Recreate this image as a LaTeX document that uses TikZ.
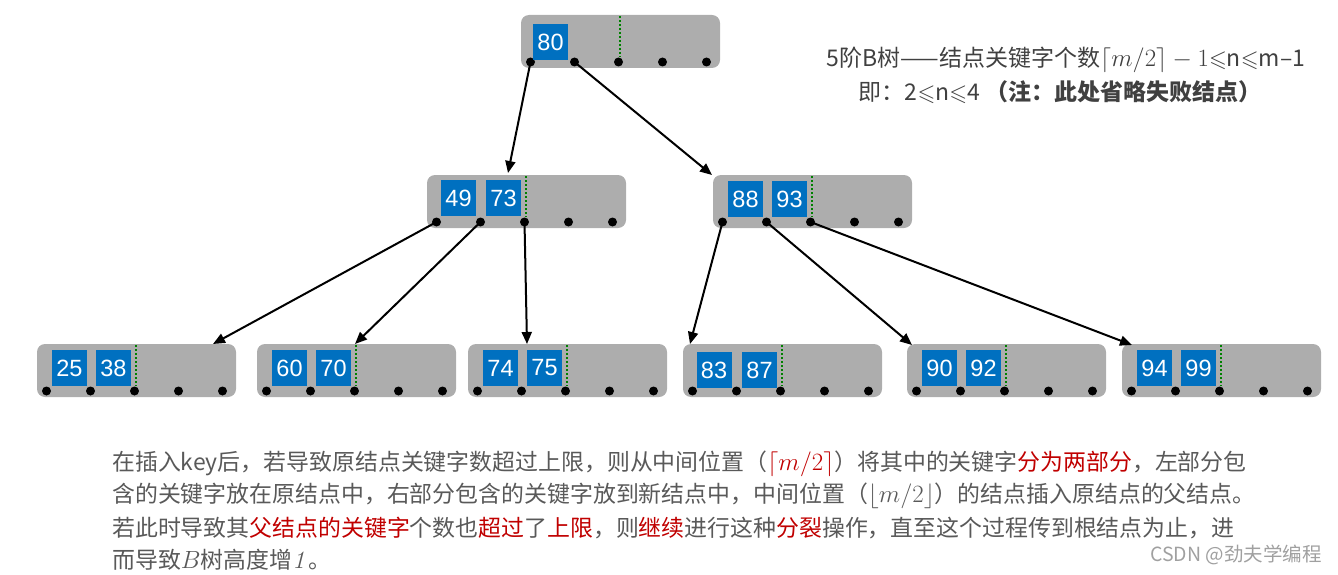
\documentclass[tikz,border=0pt]{standalone}
\usepackage{amssymb}
\usepackage[no-math]{fontspec}
\setmainfont{Liberation Sans}
\newfontfamily\cjk{Noto Sans CJK SC}
\usetikzlibrary{arrows.meta,calc}
\definecolor{keyblue}{HTML}{0070C0}
\definecolor{boxgray}{HTML}{ADADAD}
\definecolor{txtgray}{HTML}{595959}
\definecolor{hdgray}{HTML}{404040}
\definecolor{darkred}{HTML}{C00000}
\definecolor{dotgreen}{HTML}{008000}
\definecolor{wmgray}{HTML}{A0A0A0}
\newcommand\hl[1]{\textcolor{darkred}{#1}}
\newcommand\bframe[3]{%
  \node[gbox] (#1) at (#2+99.5,#3+26.5) {};
  \draw[gdot] (#2+99,#3+1) -- (#2+99,#3+42);
  \foreach \i in {0,...,4} {\node[dotn] (#1-d\i) at (#2+9.5+44*\i,#3+47) {};}
}
\tikzset{
  gbox/.style={fill=boxgray,draw=none,rounded corners=8pt,minimum width=199pt,minimum height=53pt,inner sep=0pt},
  keybox/.style={fill=keyblue,text=white,minimum width=35pt,minimum height=36pt,inner sep=0pt,font=\fontsize{23.5}{23.5}\selectfont},
  dotn/.style={circle,fill=black,inner sep=0pt,minimum size=9pt},
  gdot/.style={draw=dotgreen,line width=2pt,dash pattern=on 2pt off 2pt},
  arr/.style={draw=black,line width=2pt,-{Triangle[length=12pt,width=10pt]}},
  bodytxt/.style={anchor=west,inner sep=0pt,text=txtgray,font=\cjk\fontsize{22.9}{32}\selectfont},
  hdtxt/.style={inner sep=0pt,text=hdgray,font=\cjk\fontsize{23}{26}\selectfont}
}
\begin{document}
\begin{tikzpicture}[x=1pt,y=-1pt]
\useasboundingbox (0,0) rectangle (1338,575);
% root
\bframe{r}{521}{15}
\node[keybox] (r-k1) at (550.5,42) {80};
% level 2
\bframe{a}{427}{175}
\node[keybox] (a-k1) at (458.5,198) {49};
\node[keybox] (a-k2) at (503.5,198) {73};
\bframe{b}{713}{175}
\node[keybox] (b-k1) at (745.5,199) {88};
\node[keybox] (b-k2) at (789.5,199) {93};
% level 3
\bframe{c1}{37}{344}
\node[keybox] (c1-k1) at (69.5,368) {25};
\node[keybox] (c1-k2) at (113.5,368) {38};
\bframe{c2}{257}{344}
\node[keybox] (c2-k1) at (289.5,368) {60};
\node[keybox] (c2-k2) at (333.5,368) {70};
\bframe{c3}{468}{344}
\node[keybox] (c3-k1) at (500.5,368) {74};
\node[keybox] (c3-k2) at (544.5,368) {75};
\bframe{c4}{683}{344}
\node[keybox] (c4-k1) at (714,370) {83};
\node[keybox] (c4-k2) at (759.5,370) {87};
\bframe{c5}{907}{344}
\node[keybox] (c5-k1) at (939.5,368) {90};
\node[keybox] (c5-k2) at (983.5,368) {92};
\bframe{c6}{1122}{344}
\node[keybox] (c6-k1) at (1154.5,368) {94};
\node[keybox] (c6-k2) at (1198.5,368) {99};
% arrow ends
\coordinate (ea) at (508,173);
\coordinate (eb) at (712,175);
\coordinate (e1) at (213,344);
\coordinate (e2) at (355,344);
\coordinate (e3) at (527,344);
\coordinate (e4) at (690,344);
\coordinate (e5) at (912,345);
\coordinate (e6) at (1132,345);
\draw[arr] (r-d0.center) -- (ea);
\draw[arr] (r-d1.center) -- (eb);
\draw[arr] (a-d0.center) -- (e1);
\draw[arr] (a-d1.center) -- (e2);
\draw[arr] (a-d2.center) -- (e3);
\draw[arr] (b-d0.center) -- (e4);
\draw[arr] (b-d1.center) -- (e5);
\draw[arr] (b-d2.center) -- (e6);
% header text
\node[hdtxt] (h1) at (1066,60) {5阶B树——结点关键字个数$\lceil m/2\rceil - 1$$\leqslant$n$\leqslant$m–1};
\node[hdtxt] (h2) at (1060,92) {即：2$\leqslant$n$\leqslant$4 \textbf{（注：此处省略失败结点）}};
% body text
\node[bodytxt] (t1) at (112,464) {在插入key后，若导致原结点关键字数超过上限，则从中间位置（\hl{$\lceil m/2\rceil$}）将其中的关键字\hl{分为两部分}，左部分包};
\node[bodytxt] (t2) at (112,496) {含的关键字放在原结点中，右部分包含的关键字放到新结点中，中间位置（$\lfloor m/2\rfloor$）的结点插入原结点的父结点。};
\node[bodytxt] (t3) at (112,528) {若此时导致其\hl{父结点的关键字}个数也\hl{超过}了\hl{上限}，则\hl{继续}进行这种\hl{分裂}操作，直至这个过程传到根结点为止，进};
\node[bodytxt] (t4) at (112,560) {而导致$B$树高度增$\mathit{1}$。};
\node[anchor=east,inner sep=0pt,text=wmgray,font=\cjk\fontsize{19.5}{19.5}\selectfont] (wm) at (1322,555) {CSDN @劲夫学编程};
\end{tikzpicture}
\end{document}
